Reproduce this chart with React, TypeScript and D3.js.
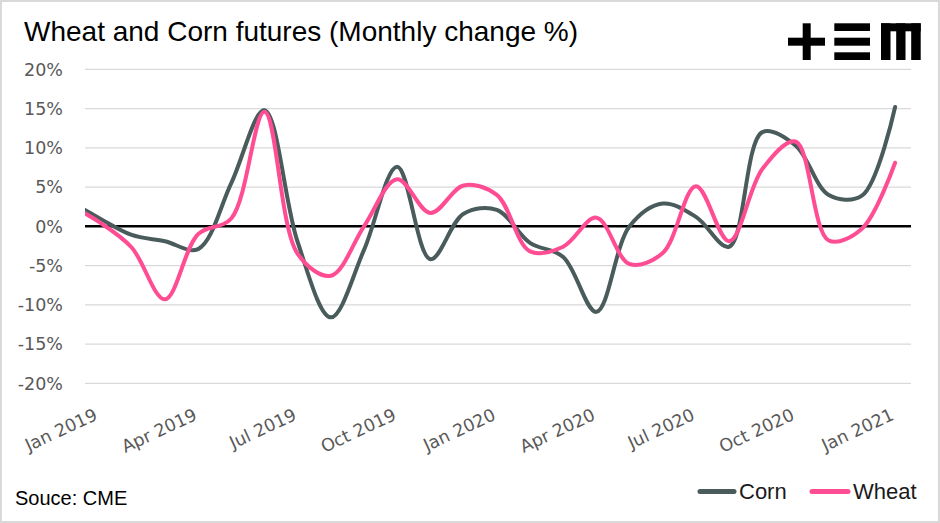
import React from "react";
import * as d3 from "d3";

const months = [
  "Dec 2018", "Jan 2019", "Feb 2019", "Mar 2019", "Apr 2019", "May 2019", "Jun 2019",
  "Jul 2019", "Aug 2019", "Sep 2019", "Oct 2019", "Nov 2019", "Dec 2019",
  "Jan 2020", "Feb 2020", "Mar 2020", "Apr 2020", "May 2020", "Jun 2020",
  "Jul 2020", "Aug 2020", "Sep 2020", "Oct 2020", "Nov 2020", "Dec 2020", "Jan 2021",
];
const corn = [
  3.5, 1.1, -1.1, -1.9, -2.9, 5.5, 14.8, -2.0, -11.6, -3.0, 7.6, -4.2, 1.6,
  2.1, -2.1, -3.9, -10.9, 0.0, 2.9, 1.2, -2.6, 12.0, 10.3, 4.0, 3.9, 15.2,
];
const wheat = [
  3.0, 0.6, -2.7, -9.3, -1.0, 1.0, 14.6, -3.5, -6.3, 0.0, 6.0, 1.7, 5.2,
  4.0, -3.2, -2.6, 1.1, -4.8, -3.4, 5.1, -1.9, 7.3, 10.8, -1.8, -0.3, 8.1,
];
const xTickLabels = [
  "Jan 2019", "Apr 2019", "Jul 2019", "Oct 2019", "Jan 2020",
  "Apr 2020", "Jul 2020", "Oct 2020", "Jan 2021",
];
const yTicks = [-20, -15, -10, -5, 0, 5, 10, 15, 20];

const W = 940;
const H = 523;
const plotLeft = 85;
const plotRight = 911;
const CORN = "#4A5B5B";
const WHEAT = "#FF4D94";
const TICK_FONT = "'DejaVu Sans', sans-serif";
const TEXT_FONT = "'Liberation Sans', Arial, sans-serif";

export default function App() {
  const x = d3.scalePoint<string>().domain(months).range([65.3, 895.1]);
  const y = d3.scaleLinear().domain([-20, 20]).range([383.3, 69.3]);

  const line = d3
    .line<number>()
    .x((_, i) => x(months[i]) as number)
    .y((d) => y(d))
    .curve(d3.curveCatmullRom.alpha(0.5));

  return (
    <svg
      width={W}
      height={H}
      style={{ position: "absolute", left: 0, top: 0, background: "#fff" }}
    >
      <defs>
        <clipPath id="plotClip">
          <rect x={plotLeft} y={0} width={plotRight - plotLeft + 10} height={H} />
        </clipPath>
      </defs>
      <rect x={1} y={1} width={W - 2} height={H - 2} fill="#fff" stroke="#D9D9D9" strokeWidth={2} />

      <text x={24} y={41} fontFamily={TEXT_FONT} fontSize={28} fill="#000">
        Wheat and Corn futures (Monthly change %)
      </text>

      {/* logo */}
      <g fill="#000">
        <rect x={788} y={37.7} width={37} height={8} />
        <rect x={802.7} y={23.3} width={8} height={36.7} />
        <rect x={834.3} y={23.3} width={35.7} height={7.7} />
        <rect x={834.3} y={37.7} width={35.7} height={8} />
        <rect x={834.3} y={52.3} width={35.7} height={7.7} />
        <rect x={881} y={23.3} width={39.7} height={8} />
        <rect x={881} y={23.3} width={9.5} height={36.7} />
        <rect x={896.2} y={23.3} width={9.3} height={36.7} />
        <rect x={911.2} y={23.3} width={9.5} height={36.7} />
      </g>

      {/* gridlines */}
      {yTicks.map((t) => (
        <g key={t}>
          {t !== 0 && (
            <line x1={plotLeft} x2={plotRight} y1={y(t)} y2={y(t)} stroke="#D9D9D9" strokeWidth={1.3} />
          )}
          <text
            x={63}
            y={y(t)}
            dy="0.36em"
            textAnchor="end"
            fontFamily={TICK_FONT}
            fontSize={17.5}
            fill="#595959"
          >
            {`${t}%`}
          </text>
        </g>
      ))}
      <line x1={plotLeft} x2={plotRight} y1={y(0)} y2={y(0)} stroke="#000" strokeWidth={2.6} />

      {/* x labels */}
      {xTickLabels.map((lab) => {
        const px = x(lab) as number;
        return (
          <text
            key={lab}
            transform={`translate(${px},${419}) rotate(-25)`}
            textAnchor="end"
            fontFamily={TICK_FONT}
            fontSize={17.5}
            fill="#595959"
          >
            {lab}
          </text>
        );
      })}

      <g clipPath="url(#plotClip)">
        <path d={line(corn) || ""} fill="none" stroke={CORN} strokeWidth={4} strokeLinecap="round" strokeLinejoin="round" />
        <path d={line(wheat) || ""} fill="none" stroke={WHEAT} strokeWidth={4} strokeLinecap="round" strokeLinejoin="round" />
      </g>

      {/* source */}
      <text x={15} y={505} fontFamily={TEXT_FONT} fontSize={20} fill="#000">
        Souce: CME
      </text>

      {/* legend */}
      <line x1={700} x2={734} y1={491.5} y2={491.5} stroke={CORN} strokeWidth={5} strokeLinecap="round" />
      <text x={739} y={499} fontFamily={TEXT_FONT} fontSize={22} fill="#1a1a1a">
        Corn
      </text>
      <line x1={812} x2={848} y1={491.5} y2={491.5} stroke={WHEAT} strokeWidth={5} strokeLinecap="round" />
      <text x={853} y={499} fontFamily={TEXT_FONT} fontSize={22} fill="#1a1a1a">
        Wheat
      </text>
    </svg>
  );
}
